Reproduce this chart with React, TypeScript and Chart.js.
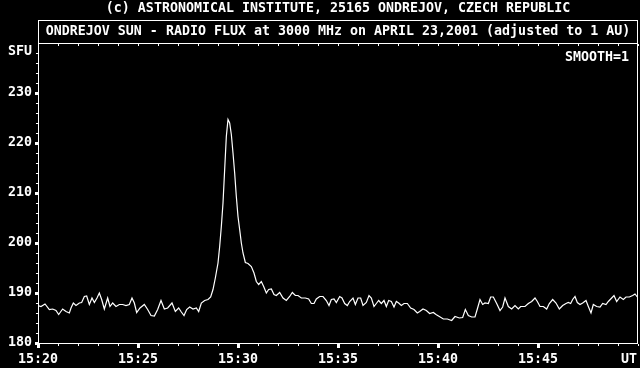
import { useEffect, useRef } from "react";
import { Chart, registerables } from "chart.js";

Chart.register(...registerables);

// seconds after 15:20:00 UT
const timesSec = [
  0, 9, 21, 34, 44, 54, 62, 74, 84, 94, 99, 106, 114, 124, 131, 139, 146, 154, 162, 169,
  177, 184, 191, 199, 209, 216, 224, 234, 244, 254, 264, 274, 282, 289, 296, 306, 319, 329, 339, 349,
  359, 369, 379, 389, 402, 412, 422, 430, 438, 446, 455, 465, 475, 482, 490, 500, 510, 518, 525, 532,
  540, 545, 550, 555, 560, 565, 570, 575, 580, 585, 590, 595, 600, 605, 610, 615, 622, 630, 640, 648,
  655, 662, 670, 677, 685, 692, 700, 708, 715, 725, 735, 745, 755, 763, 772, 780, 790, 802, 812, 820,
  828, 835, 845, 855, 865, 873, 880, 888, 895, 905, 912, 920, 928, 935, 945, 952, 960, 968, 975, 985,
  993, 1000, 1008, 1015, 1022, 1030, 1038, 1045, 1052, 1060, 1068, 1075, 1082, 1090, 1098, 1108, 1118, 1128, 1138, 1145,
  1155, 1165, 1175, 1186, 1194, 1204, 1216, 1228, 1241, 1251, 1264, 1274, 1282, 1291, 1301, 1311, 1318, 1326, 1334, 1341,
  1351, 1358, 1366, 1376, 1386, 1394, 1401, 1411, 1421, 1431, 1441, 1448, 1461, 1471, 1481, 1491, 1498, 1506, 1516, 1526,
  1534, 1544, 1554, 1564, 1574, 1584, 1591, 1598, 1604, 1611, 1618, 1626, 1634, 1644, 1651, 1659, 1666, 1676, 1686, 1694,
  1704, 1711, 1721, 1728, 1736, 1746, 1756, 1764, 1774, 1784, 1791, 1798,
];

const fluxSfu = [
  187.5, 187.3, 187.8, 186.7, 186.8, 186.5, 185.7, 186.8, 186.3, 186.0, 187.0, 188.0, 187.5, 188.0, 188.1, 189.3, 189.4, 187.7, 189.0, 188.1,
  189.0, 190.0, 188.7, 186.8, 189.0, 187.3, 188.0, 187.3, 187.7, 187.7, 187.5, 187.7, 189.0, 188.0, 186.1, 187.0, 187.7, 186.7, 185.5, 185.4,
  186.7, 188.5, 186.8, 187.0, 188.0, 186.3, 187.0, 186.2, 185.5, 186.7, 187.2, 186.8, 187.0, 186.3, 188.0, 188.5, 188.7, 189.2, 190.7, 193.0,
  196.0, 199.3, 203.3, 208.0, 214.7, 221.3, 224.7, 224.0, 221.7, 218.0, 214.0, 209.3, 205.3, 202.7, 200.0, 198.0, 196.1, 195.9, 195.3, 194.0,
  192.3, 191.7, 192.3, 191.3, 190.0, 190.7, 190.8, 189.7, 189.5, 190.1, 189.0, 188.5, 189.3, 190.1, 189.5, 189.5, 189.0, 189.0, 188.8, 187.9,
  187.9, 188.8, 189.3, 189.3, 188.5, 187.5, 188.7, 188.8, 188.1, 189.3, 189.0, 187.9, 187.5, 188.3, 189.0, 187.7, 189.0, 189.0, 187.5, 188.1,
  189.5, 189.0, 187.3, 187.9, 188.5, 187.9, 188.5, 187.3, 188.5, 188.3, 187.2, 188.3, 188.0, 187.5, 187.9, 187.9, 187.0, 186.7, 186.0, 186.3,
  186.8, 186.5, 185.9, 186.1, 185.7, 185.3, 184.8, 184.8, 184.5, 185.3, 185.0, 185.1, 186.7, 185.5, 185.2, 185.2, 186.8, 188.7, 187.7, 188.0,
  187.9, 189.2, 189.2, 187.9, 186.5, 187.2, 189.0, 187.3, 186.8, 187.5, 186.8, 187.3, 187.3, 187.9, 188.3, 189.0, 188.3, 187.3, 187.3, 186.8,
  187.9, 188.7, 188.0, 186.8, 187.5, 187.9, 188.1, 187.9, 188.7, 189.3, 188.1, 187.7, 188.0, 188.5, 187.3, 186.0, 187.7, 187.3, 187.2, 187.9,
  187.7, 188.3, 189.0, 189.5, 188.3, 189.2, 188.7, 189.2, 189.2, 189.5, 189.8, 189.2,
];

const xTickLabels = ["15:20", "15:25", "15:30", "15:35", "15:40", "15:45"];
const xEndLabel = "UT";
const yTickValues = [180, 190, 200, 210, 220, 230];
const yUnitLabel = "SFU";
const topTitle = "(c) ASTRONOMICAL INSTITUTE, 25165 ONDREJOV, CZECH REPUBLIC";
const boxTitle = "ONDREJOV SUN - RADIO FLUX at 3000 MHz on APRIL 23,2001 (adjusted to 1 AU)";
const smoothLabel = "SMOOTH=1";

const FONT = '"DejaVu Sans Mono", "Liberation Mono", monospace';
const FS = 13.3;

const decorPlugin = {
  id: "decor",
  afterDraw(chart: any) {
    const { ctx, chartArea: a, scales } = chart;
    const x = scales.x;
    const y = scales.y;
    const L = Math.round(a.left);
    const R = Math.round(a.right) - 1;
    const T = Math.round(a.top);
    const B = Math.round(a.bottom);
    const boxTop = 20;
    ctx.save();
    ctx.fillStyle = "#fff";
    // frame lines
    ctx.fillRect(L, boxTop, R - L + 1, 1);
    ctx.fillRect(L, T, R - L + 1, 1);
    ctx.fillRect(L, B, R - L + 1, 1);
    ctx.fillRect(L, boxTop, 1, B - boxTop + 1);
    ctx.fillRect(R, boxTop, 1, B - boxTop + 1);
    // minute ticks
    for (let m = 0; m <= 30; m++) {
      const px = Math.round(x.getPixelForValue(m * 60));
      ctx.fillRect(px, B + 1, 1, 2);
      ctx.fillRect(px, T + 1, 1, 2);
      if (m % 5 === 0 && m < 30) ctx.fillRect(px - 1, B + 1, 3, 4);
    }
    // y ticks
    for (let v = 182; v < 240; v += 2) {
      const py = Math.round(y.getPixelForValue(v));
      ctx.fillRect(L - 2, py, 2, 1);
    }
    for (const v of yTickValues) {
      const py = Math.round(y.getPixelForValue(v));
      ctx.fillRect(L - 3, py - 1, 3, 3);
    }
    // texts
    ctx.font = `bold ${FS}px ${FONT}`;
    ctx.textBaseline = "middle";
    ctx.textAlign = "center";
    const cx = (L + R + 1) / 2;
    ctx.fillText(topTitle, cx, 8.5);
    ctx.fillText(boxTitle, cx, 32);
    ctx.textAlign = "right";
    ctx.fillText(smoothLabel, 629, 58);
    ctx.fillText(yUnitLabel, 32, 52);
    ctx.fillText(xEndLabel, 637, 360);
    ctx.restore();
  },
};

export default function App() {
  const ref = useRef<HTMLCanvasElement | null>(null);
  useEffect(() => {
    if (!ref.current) return;
    const chart = new Chart(ref.current, {
      type: "line",
      data: {
        datasets: [
          {
            data: timesSec.map((t, i) => ({ x: t, y: fluxSfu[i] })),
            borderColor: "#ffffff",
            borderWidth: 1.2,
            pointRadius: 0,
            tension: 0,
            fill: false,
          },
        ],
      },
      options: {
        animation: false,
        responsive: false,
        maintainAspectRatio: false,
        layout: { padding: { top: 43, right: 2, left: 0, bottom: 0 } },
        plugins: { legend: { display: false }, title: { display: false }, tooltip: { enabled: false } },
        scales: {
          x: {
            type: "linear",
            min: 0,
            max: 1800,
            grid: { display: false, drawTicks: false },
            border: { display: false },
            ticks: {
              stepSize: 300,
              padding: 9,
              color: "#fff",
              maxRotation: 0,
              autoSkip: false,
              font: { family: FONT, size: FS, weight: "bold" },
              callback: (v: any) => {
                const i = Math.round(Number(v) / 300);
                return xTickLabels[i] ?? "";
              },
            },
            afterFit: (s: any) => {
              s.height = 25;
              s.paddingLeft = 0;
              s.paddingRight = 0;
            },
          },
          y: {
            min: 180,
            max: 240,
            grid: { display: false, drawTicks: false },
            border: { display: false },
            ticks: {
              stepSize: 10,
              padding: 6,
              color: "#fff",
              font: { family: FONT, size: FS, weight: "bold" },
              callback: (v: any) => (yTickValues.includes(Number(v)) ? String(v) : ""),
            },
            afterFit: (s: any) => {
              s.width = 38;
              s.paddingTop = 0;
              s.paddingBottom = 0;
            },
          },
        },
      },
      plugins: [decorPlugin],
    });
    return () => chart.destroy();
  }, []);
  return (
    <div style={{ position: "fixed", left: 0, top: 0, width: 640, height: 368, background: "#000" }}>
      <canvas ref={ref} width={640} height={368} style={{ display: "block", width: 640, height: 368 }} />
    </div>
  );
}
